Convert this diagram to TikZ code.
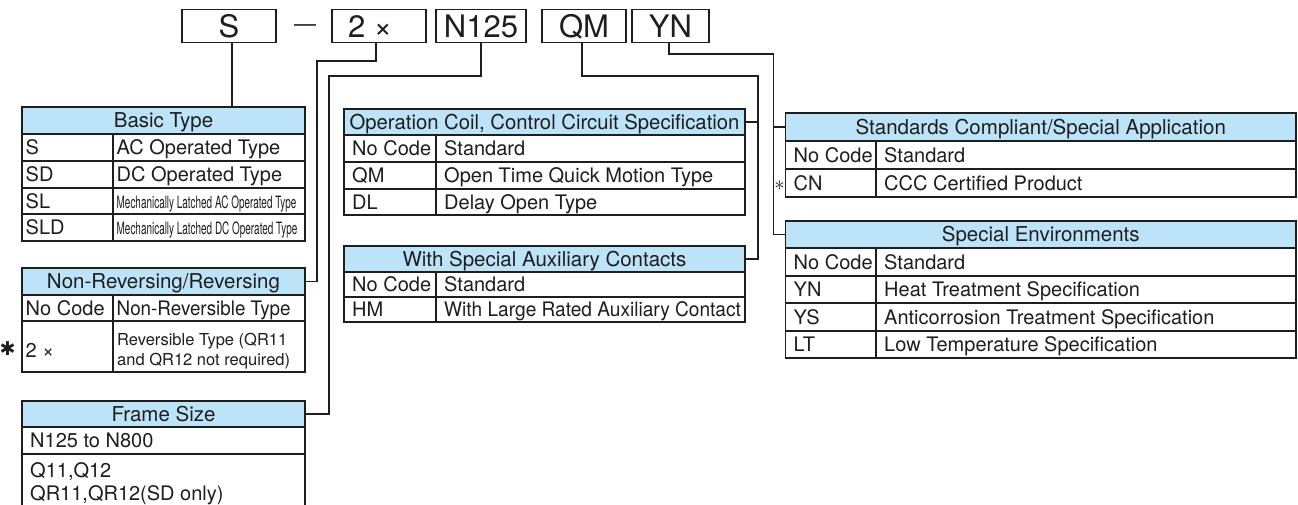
\documentclass[tikz,border=0pt]{standalone}
\usepackage{fontspec}
\setmainfont{TeX Gyre Heros}
\newfontfamily\djv{DejaVu Sans}
\definecolor{hdrblue}{RGB}{189,227,248}
\definecolor{ink}{RGB}{30,30,30}
\newcommand{\bodyfont}{\fontsize{20}{24}\selectfont}
\newcommand{\headfont}{\fontsize{20.5}{24}\selectfont}
\newcommand{\sq}[2]{\scalebox{#1}[1]{#2}}
\newcommand{\cond}[1]{\scalebox{0.585}[1]{\fontsize{17}{18}\selectfont #1}}
\newcommand{\hd}[6]{%
  \pgfmathsetmacro{\hdw}{#3-#2}\pgfmathsetmacro{\hdh}{#5-#4}%
  \node[hdr, minimum width=\hdw pt, minimum height=\hdh pt] (#1) at ({(#2+#3)/2},{(#4+#5)/2}) {#6};}
\newcommand{\rw}[9]{%
  \draw[tline] (#2,#5) rectangle (#4,#6) (#3,#5) -- (#3,#6);
  \node[cell] (#1c) at ({#2+#7},{(#5+#6)/2}) {#8};
  \node[cell] (#1d) at ({#3+#7},{(#5+#6)/2}) {#9};}
\begin{document}
\begin{tikzpicture}[x=1pt,y=-1pt,
  tline/.style={draw=ink, line width=1.2pt},
  hdr/.style={draw=ink, line width=1.2pt, fill=hdrblue, inner sep=0pt, text height=14.8pt, text depth=0pt, font=\headfont, text=ink},
  cell/.style={inner sep=0pt, anchor=west, text height=14.4pt, text depth=0pt, font=\bodyfont, text=ink},
  code/.style={draw=ink, line width=1.2pt, inner sep=0pt, minimum height=33pt, text height=22.3pt, text depth=0pt, font=\fontsize{31}{34}\selectfont, text=ink},
  conn/.style={draw=ink, line width=1.3pt}]
\useasboundingbox[fill=white] (0,0) rectangle (1298,505);

% code boxes
\node[code, minimum width=94pt] (s) at (229,26) {S};
\node[font=\fontsize{22}{24}\selectfont, inner sep=0pt, text=ink] (hy) at (305,28) {—};
\node[code, minimum width=94pt] (tx) at (379,26) {2 ×\kern18pt};
\node[code, minimum width=90pt] (n) at (481,26) {N125};
\node[code, minimum width=84pt] (qm) at (584,26) {QM};
\node[code, minimum width=77pt] (yn) at (670.5,26) {YN};

% Basic Type
\hd{bt}{22}{305}{107}{134}{Basic Type}
\rw{bta}{22}{113}{305}{134}{161}{3.5}{S}{AC Operated Type}
\rw{btb}{22}{113}{305}{161}{188}{3.5}{SD}{DC Operated Type}
\rw{btc}{22}{113}{305}{188}{214}{3.5}{SL}{\cond{Mechanically Latched AC Operated Type}}
\rw{btd}{22}{113}{305}{214}{241}{3.5}{SLD}{\cond{Mechanically Latched DC Operated Type}}

% Non-Reversing / Reversing
\hd{nr}{22}{305}{268}{295}{Non-Reversing/Reversing}
\rw{nra}{22}{113}{305}{295}{321}{3.5}{No Code}{\sq{0.94}{Non-Reversible Type}}
\draw[tline] (22,321) rectangle (305,372) (113,321) -- (113,372);
\node[cell] (nrbc) at (25.5,350) {2 ×};
\node[inner sep=0pt, anchor=west, align=left, text=ink, font=\fontsize{16.5}{20}\selectfont] (nrbd) at (117,351.5) {Reversible Type (QR11\\and QR12 not required)};
\node[inner sep=0pt, text=ink, font=\djv\fontsize{19}{19}\selectfont] (ast1) at (7.5,349) {✱};

% Frame Size
\hd{fs}{22}{305}{401}{427}{Frame Size}
\draw[tline] (22,427) rectangle (305,454);
\draw[tline] (22,454) -- (22,506) (305,454) -- (305,506);
\node[cell] (fsa) at (30,440.5) {N125 to N800};
\node[cell] (fsb) at (30,470) {Q11,Q12};
\node[cell] (fsc) at (30,493) {QR11,QR12(SD only)};

% Operation Coil
\hd{oc}{344}{745}{109}{135}{\sq{0.99}{Operation Coil, Control Circuit Specification}}
\rw{oca}{344}{436}{745}{135}{162}{8}{No Code}{Standard}
\rw{ocb}{344}{436}{745}{162}{189}{8}{QM}{Open Time Quick Motion Type}
\rw{occ}{344}{436}{745}{189}{215}{8}{DL}{Delay Open Type}

% With Special Auxiliary Contacts
\hd{ax}{344}{745}{246}{272}{With Special Auxiliary Contacts}
\rw{axa}{344}{436}{745}{272}{297}{8}{No Code}{Standard}
\rw{axb}{344}{436}{745}{297}{322}{8}{HM}{\sq{0.955}{With Large Rated Auxiliary Contact}}

% Standards Compliant
\hd{sc}{785.5}{1296}{113}{141}{Standards Compliant/Special Application}
\rw{sca}{785.5}{876}{1296}{141}{169}{8}{No Code}{Standard}
\rw{scb}{785.5}{876}{1296}{169}{197}{8}{CN}{CCC Certified Product}
\node[inner sep=0pt, text=ink, font=\fontsize{20}{20}\selectfont] (ast2) at (779.5,186) {$\ast$};

% Special Environments
\hd{se}{785.5}{1296}{221}{248}{Special Environments}
\rw{sea}{785.5}{876}{1296}{248}{276}{8}{No Code}{Standard}
\rw{seb}{785.5}{876}{1296}{276}{303}{8}{YN}{Heat Treatment Specification}
\rw{sec}{785.5}{876}{1296}{303}{331}{8}{YS}{Anticorrosion Treatment Specification}
\rw{sed}{785.5}{876}{1296}{331}{358}{8}{LT}{Low Temperature Specification}

% connectors
\coordinate (txb) at (317,61);
\coordinate (nb) at (329,76);
\coordinate (qmb) at (758,76);
\coordinate (ynb) at (773.5,54);
\draw[conn] ([xshift=3pt]s.south) -- ([xshift=3pt]s.south |- bt.north);
\draw[conn] ([xshift=-3pt]tx.south) |- (txb) |- (nr.east);
\draw[conn] (n.south) |- (nb) |- (fs.east);
\draw[conn] ([xshift=-2pt]qm.south) |- (qmb) |- (ax.east);
\draw[conn] (oc.east) -- (oc.east -| qmb);
\draw[conn] ([xshift=-1.5pt]yn.south) |- (ynb) |- (se.west);
\draw[conn] (sc.west) -- (sc.west -| ynb);
\end{tikzpicture}
\end{document}
